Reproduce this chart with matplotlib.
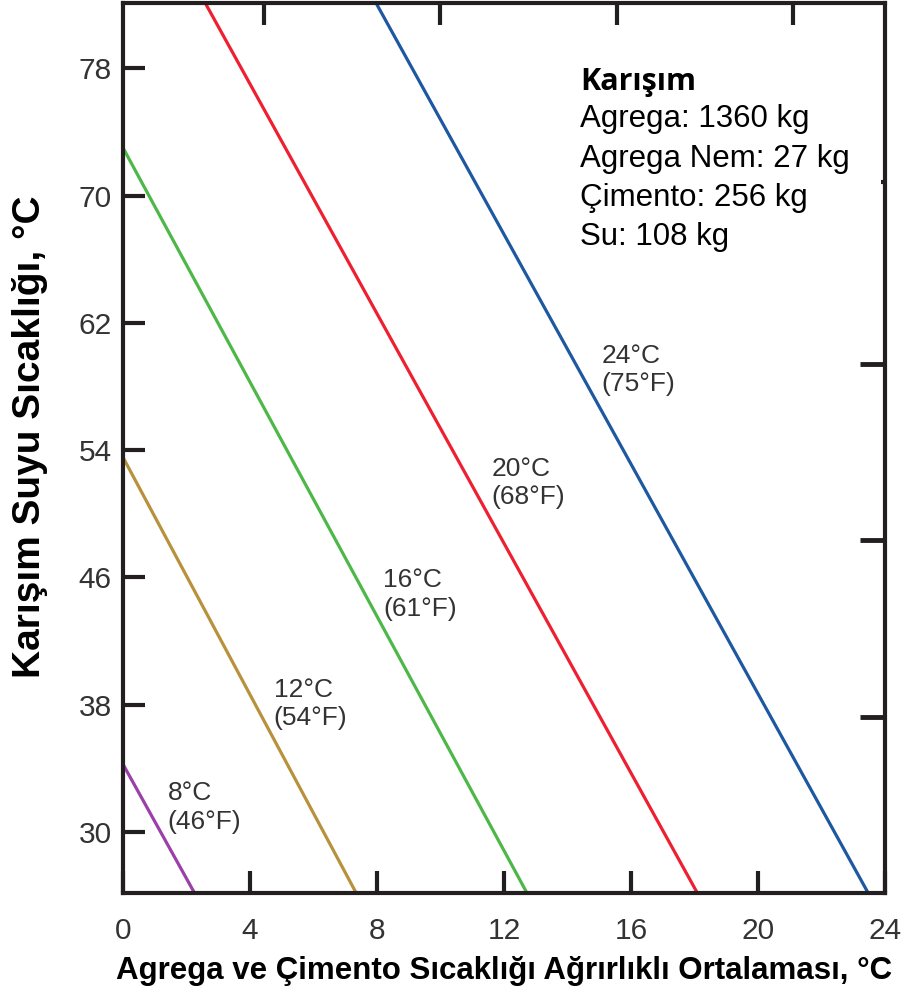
import matplotlib
matplotlib.use("Agg")
import matplotlib.pyplot as plt

# ---- data ----
isotherm_c = [8, 12, 16, 20, 24]
isotherm_f = [46, 54, 61, 68, 75]
line_x = [
    [0.0, 2.30],
    [0.0, 7.39],
    [0.0, 12.77],
    [2.59, 18.09],
    [7.97, 23.47],
]
line_y = [
    [34.26, 26.0],
    [53.55, 26.0],
    [73.0, 26.0],
    [82.1, 26.17],
    [82.1, 26.17],
]
colors = ["#9b40a8", "#b8913c", "#4db848", "#ee1f30", "#1d58a0"]
x_ticks = [0, 4, 8, 12, 16, 20, 24]
y_ticks = [30, 38, 46, 54, 62, 70, 78]
top_f_ticks = [40, 50, 60, 70]
right_f_ticks = [99, 119, 139]
right_f_minor = [159.5]
mix_title = "Karışım"
mix_lines = ["Agrega: 1360 kg", "Agrega Nem: 27 kg", "Çimento: 256 kg", "Su: 108 kg"]
xlabel = "Agrega ve Çimento Sıcaklığı Ağrırlıklı Ortalaması, °C"
ylabel = "Karışım Suyu Sıcaklığı, °C"

# label anchors (layout)
label_pos = [(1.41, 33.2), (4.75, 39.7), (8.19, 46.6), (11.6, 53.6), (15.06, 60.7)]

plt.rcParams["font.family"] = ["Liberation Sans", "DejaVu Sans"]

fig = plt.figure(figsize=(9.07, 10.08), dpi=100)
ax = fig.add_axes([123 / 907, 1 - 893 / 1008, (885 - 123) / 907, (893 - 3) / 1008])

for xs, ys, c in zip(line_x, line_y, colors):
    ax.plot(xs, ys, color=c, lw=2.3, solid_capstyle="butt")

for (lx, ly), tc, tf in zip(label_pos, isotherm_c, isotherm_f):
    ax.text(lx, ly, f"{tc}°C\n({tf}°F)", fontsize=19, color="#333333",
            va="top", ha="left", linespacing=1.25)

ax.set_xlim(0.1, 23.9)
ax.set_ylim(26.17, 82.1)
ax.set_xticks(x_ticks)
ax.set_yticks(y_ticks)
ax.tick_params(axis="both", direction="in", length=16, width=3, color="#231f20",
               labelsize=21.5, labelcolor="#333333")
ax.tick_params(axis="x", pad=17)
ax.tick_params(axis="y", pad=8)
for s in ax.spines.values():
    s.set_linewidth(3)
    s.set_color("#231f20")

c2f = lambda c: c * 9 / 5 + 32
f2c = lambda f: (f - 32) * 5 / 9
secx = ax.secondary_xaxis("top", functions=(c2f, f2c))
secx.set_xticks(top_f_ticks)
secx.tick_params(direction="in", length=16, width=3, color="#231f20", labeltop=False)
secx.spines["top"].set_visible(False)
secy = ax.secondary_yaxis("right", functions=(c2f, f2c))
secy.set_yticks(right_f_ticks)
secy.set_yticks(right_f_minor, minor=True)
secy.tick_params(which="major", direction="in", length=18, width=3.5, color="#231f20", labelright=False)
secy.tick_params(which="minor", direction="in", length=3, width=3, color="#231f20", labelright=False)
secy.spines["right"].set_visible(False)

ax.set_xlabel(xlabel, fontsize=22.5, fontweight="bold", labelpad=8)
ax.set_ylabel(ylabel, fontsize=28, fontweight="bold", labelpad=13)
ax.yaxis.set_label_coords(-0.098, 0.513)

fig.text(580 / 907, 1 - 90 / 1008, mix_title, fontsize=22, fontweight="bold",
         family=["Open Sans", "DejaVu Sans"], va="baseline", ha="left", color="black")
for i, t in enumerate(mix_lines):
    fig.text(580 / 907, 1 - (127 + 39.5 * i) / 1008, t, fontsize=22.5, va="baseline",
             ha="left", color="black")

fig.savefig("out.png", dpi=100)
